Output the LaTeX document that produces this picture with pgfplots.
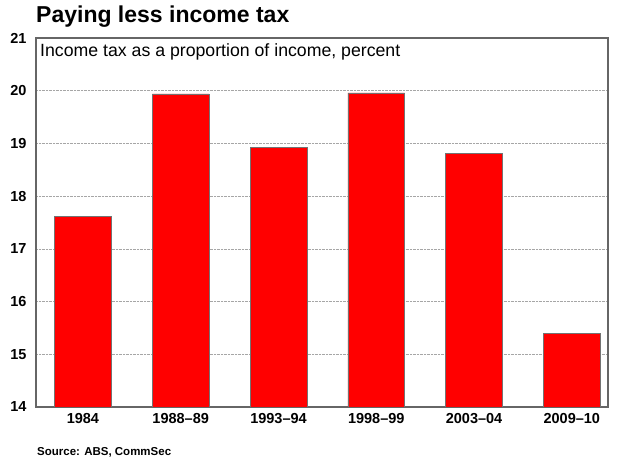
\documentclass[border=0pt]{standalone}
\usepackage{pgfplots}
\pgfplotsset{compat=1.18}
\usepackage{fontspec}
\setmainfont{Liberation Sans}
\begin{document}
\begin{tikzpicture}[x=1pt,y=1pt]
\useasboundingbox (0,0) rectangle (618,460);
\begin{axis}[
  at={(36pt,53pt)}, anchor=south west,
  width=572pt, height=369pt, scale only axis,
  xmin=-0.48, xmax=5.37,
  ymin=14, ymax=21,
  ytick={14,15,...,21},
  xtick={0,1,2,3,4,5},
  xticklabels={1984,1988--89,1993--94,1998--99,2003--04,2009--10},
  major tick length=0pt,
  ymajorgrids,
  grid style={densely dotted, gray!70, line width=0.6pt},
  axis line style={black!60, line width=1.2pt},
  ticklabel style={font=\bfseries\fontsize{14.5}{14.5}\selectfont},
  /pgf/number format/assume math mode=true,
  yticklabel style={xshift=-6pt},
  xticklabel style={yshift=-3pt},
]
\addplot[ybar, bar width=0.58, fill=red, draw=black!55, line width=0.5pt]
  coordinates {(0,17.62) (1,19.94) (2,18.92) (3,19.96) (4,18.81) (5,15.40)};
\node[anchor=north west, inner sep=0pt, font=\fontsize{17.7}{17.7}\selectfont]
  at ([xshift=4pt,yshift=-5pt]rel axis cs:0,1) {Income tax as a proportion of income, percent};
\end{axis}
\node[anchor=west, inner sep=0pt, font=\bfseries\fontsize{23}{23}\selectfont] at (36,443) {Paying less income tax};
\node[anchor=west, inner sep=0pt, font=\bfseries\fontsize{11.5}{11.5}\selectfont] at (37,8) {Source: ABS, CommSec};
\end{tikzpicture}
\end{document}
